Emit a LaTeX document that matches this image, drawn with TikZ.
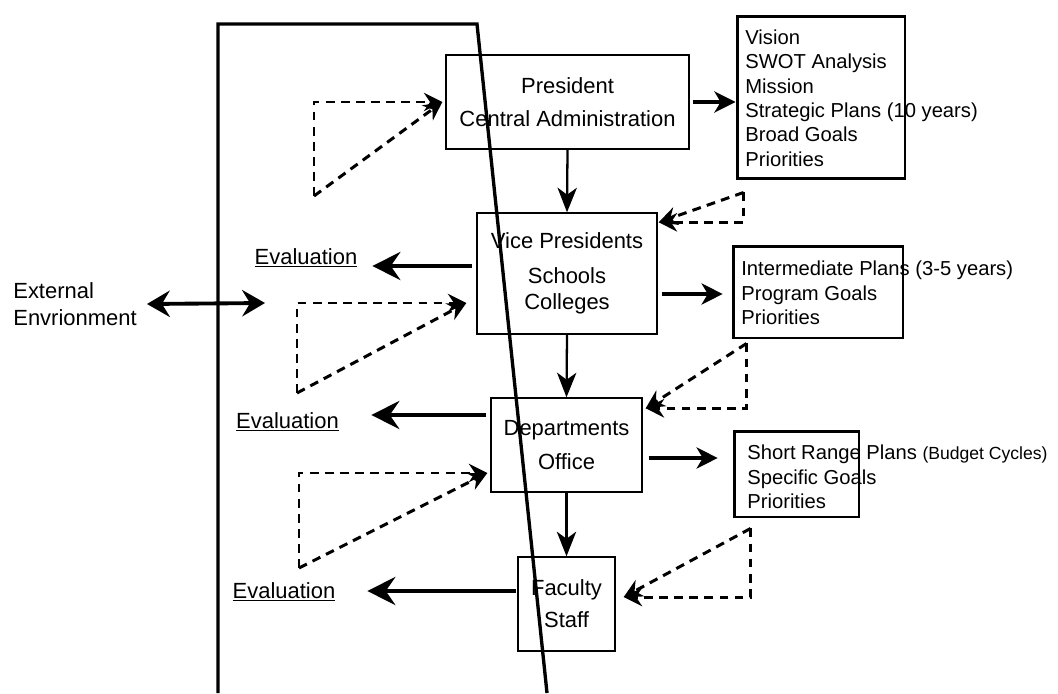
\documentclass[tikz,border=0pt]{standalone}
\usepackage{fontspec}
\setmainfont{Liberation Sans}
\usepackage{tikz}
\usetikzlibrary{arrows.meta, calc}

\begin{document}
\begin{tikzpicture}[
      x=0.02cm, y=-0.02cm,
      procbox/.style={draw, line width=0.8pt, align=center, inner sep=0pt,
                      font=\fontsize{12.5}{14.5}\selectfont},
      planbox/.style={draw, line width=1.7pt, inner sep=0pt},
      plantxt/.style={anchor=west, align=left, inner sep=0pt,
                      font=\fontsize{11.5}{13.9}\selectfont},
      lbl/.style={inner sep=0pt, align=left, font=\fontsize{12.5}{15.4}\selectfont},
      arr/.style={-{Stealth[length=12pt, width=12pt, inset=3.5pt]}, line width=2pt},
      downarr/.style={-{Stealth[length=14pt, width=11pt, inset=4pt]}, line width=1.3pt},
      evalarr/.style={-{Stealth[length=16pt, width=16pt, inset=5.5pt]}, line width=2pt},
      dblarr/.style={{Stealth[length=13pt, width=15pt, inset=4.5pt]}-{Stealth[length=13pt, width=15pt, inset=4.5pt]},
                     line width=2.2pt},
      fbk/.style={-{Stealth[length=10.5pt, width=10.5pt, inset=3.5pt]}, line width=1.7pt,
                  dash pattern=on 5pt off 3.6pt},
      bound/.style={line width=1.9pt}
    ]
    \useasboundingbox (0,0) rectangle (1058,693);

    % boundary of the institution
    \draw[bound] (218,693) -- (218,24) -- (477,24) -- (547,693);

    % levels
    \node[procbox, minimum width=4.86cm, minimum height=1.88cm] (pres) at (567.5,102) {President\\[4.3pt]Central Administration};
    \node[procbox, minimum width=3.6cm, minimum height=2.42cm] (vp) at (567,273.5) {Vice Presidents\\[5.4pt]Schools\\Colleges};
    \node[procbox, minimum width=3.02cm, minimum height=1.88cm] (dept) at (566.5,445) {Departments\\[4.8pt]Office};
    \node[procbox, minimum width=1.94cm, minimum height=1.88cm] (fac) at (566.5,604) {Faculty\\[3.6pt]Staff};

    % plans
    \node[planbox, minimum width=3.36cm, minimum height=3.26cm] (vision) at (821,97.5) {};
    \node[plantxt] (visiontxt) at (745,98) {Vision\\SWOT Analysis\\Mission\\Strategic Plans (10 years)\\Broad Goals\\Priorities};
    \node[planbox, minimum width=3.4cm, minimum height=1.84cm] (inter) at (818,292) {};
    \node[plantxt] (intertxt) at (741,293) {Intermediate Plans (3-5 years)\\Program Goals\\Priorities};
    \node[planbox, minimum width=2.5cm, minimum height=1.72cm] (short) at (796.5,474) {};
    \node[plantxt] (shorttxt) at (747,477) {Short Range Plans {\fontsize{10}{12}\selectfont(Budget Cycles)}\\Specific Goals\\Priorities};

    % outside and evaluation
    \node[lbl, anchor=west] (ext) at (13,304) {External\\Envrionment};
    \coordinate (extin) at (265,303);
    \node[lbl] (eval1) at (306,258) {\underline{Evaluation}};
    \node[lbl] (eval2) at (287.5,422) {\underline{Evaluation}};
    \node[lbl] (eval3) at (284,592) {\underline{Evaluation}};

    % solid connectors
    \draw[dblarr] ($(ext.east)+(10,0)$) -- (extin);
    \draw[arr] ($(pres.east)+(3,0)$) -- (pres.east -| vision.west);
    \draw[arr] ($(vp.east)+(4,20.5)$) -- +(61,0);
    \draw[arr] ($(dept.east)+(6,13)$) -- +(69,0);
    \draw[downarr] (pres.south) -- (vp.north);
    \draw[downarr] (vp.south) -- (dept.north);
    \draw[downarr] (dept.south) -- (fac.north);
    \draw[evalarr] ($(vp.west)+(-4,-7.5)$) -- +(-100,0);
    \draw[evalarr] ($(dept.west)+(-4,-30)$) -- +(-115,0);
    \draw[evalarr] ($(fac.west)+(-1,-13)$) -- +(-149,0);

    % feedback from evaluation
    \coordinate (fb1) at (314,196);
    \coordinate (fb2) at (297,393);
    \coordinate (fb3) at (299,568);
    \draw[fbk] (fb1) |- ($(pres.west)+(-3,0)$);
    \draw[fbk] (fb1) -- ($(pres.west)+(-3,0)$);
    \draw[fbk] (fb2) |- ($(vp.west)+(-10,29.5)$);
    \draw[fbk] (fb2) -- ($(vp.west)+(-10,29.5)$);
    \draw[fbk] (fb3) |- ($(dept.west)+(-3,28)$);
    \draw[fbk] (fb3) -- ($(dept.west)+(-3,28)$);

    % plans fed down
    \coordinate (pl1) at ($(vision.south west)+(8,12)$);
    \coordinate (pl2) at ($(inter.south west)+(15,4)$);
    \coordinate (pl3) at ($(short.south west)+(18,10)$);
    \draw[fbk] (pl1) |- ($(vp.north east)+(1,10)$);
    \draw[fbk] (pl1) -- ($(vp.north east)+(1,10)$);
    \draw[fbk] (pl2) |- ($(dept.north east)+(3,11)$);
    \draw[fbk] (pl2) -- ($(dept.north east)+(3,11)$);
    \draw[fbk] (pl3) |- ($(fac.east)+(8,-7)$);
    \draw[fbk] (pl3) -- ($(fac.east)+(8,-7)$);
\end{tikzpicture}
\end{document}
